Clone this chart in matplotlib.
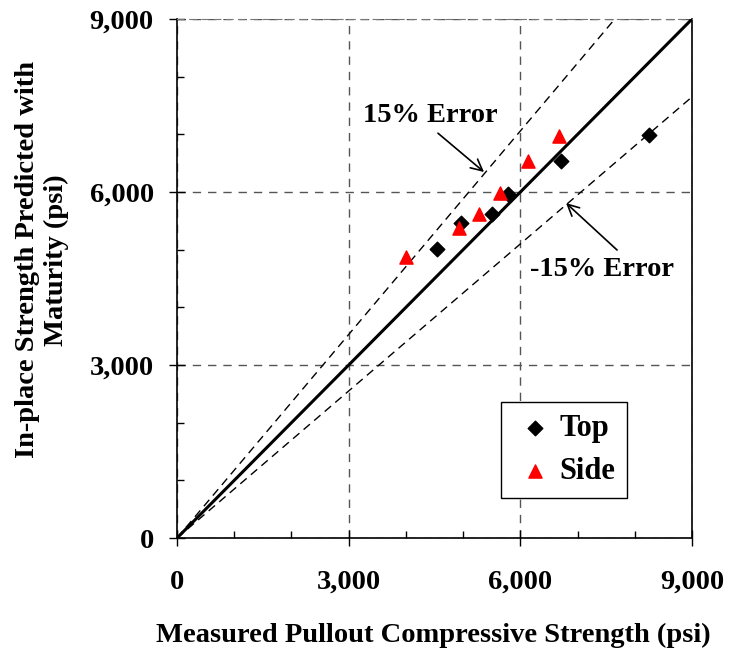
import numpy as np
import matplotlib.pyplot as plt
from matplotlib.ticker import MultipleLocator, FuncFormatter

plt.rcParams.update({
    'font.family': 'Liberation Serif',
    'font.weight': 'bold',
    'axes.labelweight': 'bold',
    'font.size': 20.5,
})

# measured pullout (x) vs predicted with maturity (y), psi
top_measured = [4540, 4960, 5500, 5790, 6710, 8250]
top_predicted = [5010, 5470, 5620, 5970, 6530, 6990]
side_measured = [4000, 4930, 5270, 5650, 6130, 6680]
side_predicted = [4880, 5370, 5620, 5980, 6530, 6970]

axis_max = 9000
error_band = 0.15

fig = plt.figure(figsize=(7.3, 6.49), dpi=100)
ax = fig.add_axes([0.2425, 0.171, 0.7055, 0.7997])

line_x = np.array([0, axis_max])
ax.plot(line_x, line_x, color='black', lw=2.2, zorder=3)
ax.plot(line_x, line_x / (1 - error_band), color='black', lw=1, ls=(0, (6, 4)), zorder=3)
ax.plot(line_x, line_x * (1 - error_band), color='black', lw=1, ls=(0, (6, 4)), zorder=3)

ax.scatter(top_measured, top_predicted, marker='D', s=55, color='black', label='Top', zorder=4)
ax.scatter(side_measured, side_predicted, marker='^', s=90, color='red', label='Side', zorder=4)

# error labels with arrows pointing at the dashed lines
ax.text(4430, 7330, '15% Error', ha='center', va='center', fontsize=20.5)
ax.annotate('', xy=(5365, 6347), xytext=(4560, 7020),
            arrowprops=dict(arrowstyle='->', color='black', lw=1.2, shrinkA=0, shrinkB=0))
ax.text(7430, 4650, '-15% Error', ha='center', va='center', fontsize=20.5)
ax.annotate('', xy=(6798, 5809), xytext=(7690, 4994),
            arrowprops=dict(arrowstyle='->', color='black', lw=1.2, shrinkA=0, shrinkB=0))

ax.set_xlim(0, axis_max)
ax.set_ylim(0, axis_max)
ax.xaxis.set_major_locator(MultipleLocator(3000))
ax.yaxis.set_major_locator(MultipleLocator(3000))
ax.xaxis.set_minor_locator(MultipleLocator(1000))
ax.yaxis.set_minor_locator(MultipleLocator(1000))
fmt = FuncFormatter(lambda v, p: f'{int(v):,}')
ax.xaxis.set_major_formatter(fmt)
ax.yaxis.set_major_formatter(fmt)
ax.tick_params(which='major', direction='inout', length=11.5, width=1, labelsize=20.5)
ax.tick_params(axis='x', which='major', pad=17)
ax.tick_params(axis='y', which='major', pad=11)
ax.tick_params(which='minor', direction='in', length=5, width=1)
ax.grid(True, which='major', color='#555555', ls=(0, (6, 5)), lw=1)

for side in ['left', 'bottom', 'right']:
    ax.spines[side].set_linewidth(1.2)
ax.spines['top'].set_color('#777777')
ax.spines['top'].set_linestyle((0, (6, 5)))

ax.set_xlabel('Measured Pullout Compressive Strength (psi)', fontsize=20.5)
ax.set_ylabel('In-place Strength Predicted with\nMaturity (psi)', fontsize=20.5,
              ha='center', va='center', multialignment='center')
ax.xaxis.set_label_coords(0.498, -0.187)
ax.xaxis.label.set_va('center')
ax.yaxis.set_label_coords(-0.262, 0.536)

leg = ax.legend(loc='upper left', bbox_to_anchor=(0.629, 0.262), borderaxespad=0, fontsize=22,
                frameon=True, fancybox=False, edgecolor='black', framealpha=1,
                handletextpad=0.1, borderpad=0.4, labelspacing=0.45, handlelength=1.4,
                scatterpoints=1)
leg.get_frame().set_linewidth(1)

fig.savefig('out.png', dpi=100)
